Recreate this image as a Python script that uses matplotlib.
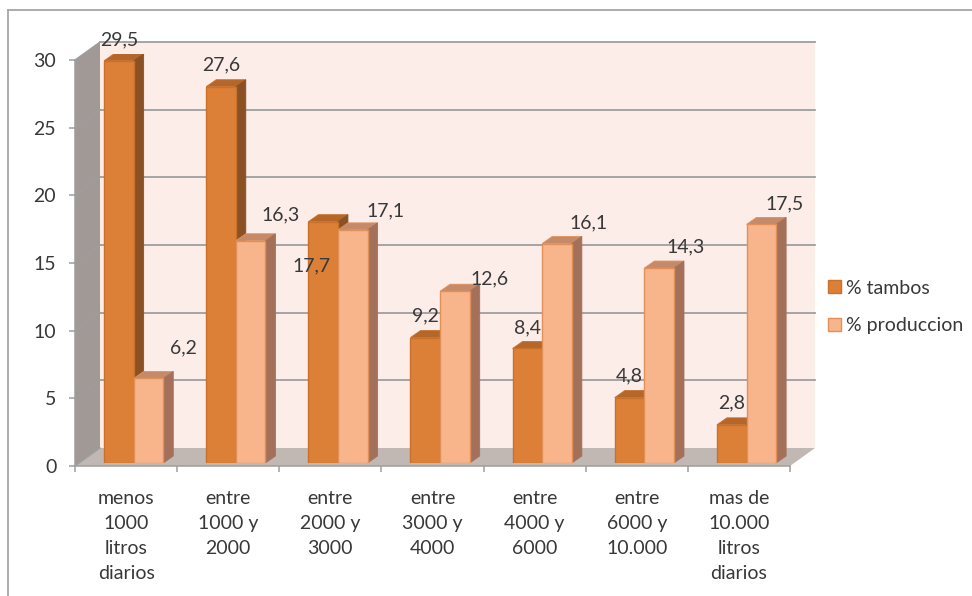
import numpy as np
import matplotlib
matplotlib.use("Agg")
import matplotlib.pyplot as plt
from matplotlib.patches import Polygon, Patch
from matplotlib.lines import Line2D

plt.rcParams['font.family'] = ['Lato', 'DejaVu Sans']

# datos: distribucion de tambos y de produccion segun escala diaria
categorias = ["menos\n1000\nlitros\ndiarios", "entre\n1000 y\n2000", "entre\n2000 y\n3000",
              "entre\n3000 y\n4000", "entre\n4000 y\n6000", "entre\n6000 y\n10.000",
              "mas de\n10.000\nlitros\ndiarios"]
tambos = [29.5, 27.6, 17.7, 9.2, 8.4, 4.8, 2.8]
produccion = [6.2, 16.3, 17.1, 12.6, 16.1, 14.3, 17.5]
series = ["% tambos", "% produccion"]
y_ticks = [0, 5, 10, 15, 20, 25, 30]

# colores (frente, borde, lateral, tapa)
col_tambos = ('#DD8037', '#C9702B', '#8A5124', '#B5672A')
col_prod = ('#F8B48A', '#E0915A', '#A5705A', '#C48A6A')
txt = '#383838'
grid = '#9E9E9E'
FS = 14

W, H = 972, 596
fig = plt.figure(figsize=(W / 100, H / 100), dpi=100)

def fx(px):
    return px / W

def fy(py):
    return 1 - py / H

# plano frontal: ejes, paredes y piso
ax = fig.add_axes([fx(75), fy(466), 715 / W, 406 / H])
ax.set_xlim(0, 7)
ax.set_ylim(0, 30)
ax.patch.set_visible(False)
for s in ['top', 'right']:
    ax.spines[s].set_visible(False)
for s in ['left', 'bottom']:
    ax.spines[s].set_color(grid)
    ax.spines[s].set_linewidth(1.1)

n = len(categorias)
DX = 25 / (715 / n)      # profundidad de la caja en unidades de datos
DY = 18 / (406 / 30)

ax.add_patch(Polygon([(DX, DY), (n + DX, DY), (n + DX, 30 + DY), (DX, 30 + DY)],
                     closed=True, fc='#FDEDE9', ec='none', zorder=0, clip_on=False))
ax.add_patch(Polygon([(0, 0), (DX, DY), (DX, 30 + DY), (0, 30)],
                     closed=True, fc='#A09996', ec='none', zorder=0.5, clip_on=False))
ax.add_patch(Polygon([(0, 0), (n, 0), (n + DX, DY), (DX, DY)],
                     closed=True, fc='#C1B8B4', ec='none', zorder=0.5, clip_on=False))
for v in y_ticks:
    if v > 0:
        ax.plot([DX, n + DX], [v + DY, v + DY], color=grid, lw=1.3, zorder=0.6, clip_on=False)
    ax.plot([0, DX], [v, v + DY], color=grid, lw=1.0, zorder=0.6, clip_on=False)

ax.set_yticks(y_ticks)
ax.tick_params(axis='y', length=4.5, width=1.1, color=grid, pad=9,
               labelsize=FS, labelcolor=txt)
ax.set_xticks(np.arange(n + 1))
ax.set_xticklabels([])
ax.set_xticks(np.arange(n) + 0.5, minor=True)
ax.set_xticklabels(categorias, minor=True, fontsize=FS, color=txt, linespacing=1.58)
ax.tick_params(axis='x', which='major', length=4.5, width=1.1, color=grid)
ax.tick_params(axis='x', which='minor', length=0, pad=17)

# barras en un plano algo mas atras
bx = fig.add_axes([fx(79), fy(463), 715 / W, 409 / H])
bx.set_xlim(0, n)
bx.set_ylim(0, 30)
bx.axis('off')

BW = 0.29
offs = [0.245, 0.535]
SDX = 10 / (715 / n)
SDY = 7 / (409 / 30)

# desplazamiento de cada etiqueta respecto del centro superior de la barra (px)
lab_dx = [[0, 0, -12, 0, 0, 0, 0], [35, 30, 33, 35, 32, 26, 23]]
lab_dy = [[21, 22, -44, 22, 21, 22, 22], [31, 26, 19, 12, 21, 21, 21]]

z = 2
for i in range(n):
    for s, (vals, col) in enumerate([(tambos, col_tambos), (produccion, col_prod)]):
        v = vals[i]
        x0 = i + offs[s]
        x1 = x0 + BW
        bx.add_patch(Polygon([(x0, v), (x1, v), (x1 + SDX, v + SDY), (x0 + SDX, v + SDY)],
                             closed=True, fc=col[3], ec=col[1], lw=0.6, zorder=z))
        bx.add_patch(Polygon([(x1, 0), (x1 + SDX, SDY), (x1 + SDX, v + SDY), (x1, v)],
                             closed=True, fc=col[2], ec=col[2], lw=0.6, zorder=z))
        bx.bar(x0, v, width=BW, align='edge', color=col[0], edgecolor=col[1],
               linewidth=1.0, zorder=z + 1)
        bx.annotate(f"{v:.1f}".replace('.', ','), (x0 + BW / 2, v),
                    xytext=(lab_dx[s][i], lab_dy[s][i]), textcoords='offset pixels',
                    ha='center', va='center', fontsize=FS, color=txt, zorder=50)
        z += 3

fig.legend(handles=[Patch(fc=col_tambos[0], ec=col_tambos[1]),
                    Patch(fc=col_prod[0], ec=col_prod[1])],
           labels=series, loc='center left', bbox_to_anchor=(fx(828), fy(307)),
           frameon=False, fontsize=FS, labelcolor=txt, handlelength=0.65,
           handleheight=0.65, handletextpad=0.3, labelspacing=1.05,
           borderpad=0, borderaxespad=0)

# marco exterior
fig.add_artist(Line2D([fx(8), fx(8)], [fy(10), 0], transform=fig.transFigure,
                      color='#A6A6A6', lw=1.3))
fig.add_artist(Line2D([fx(8), 1], [fy(10), fy(10)], transform=fig.transFigure,
                      color='#A6A6A6', lw=1.3))

fig.savefig('out.png', dpi=100)
